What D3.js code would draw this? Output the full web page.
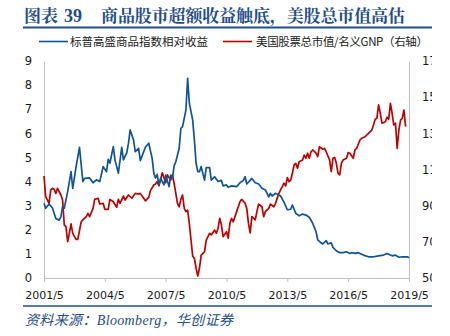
<!DOCTYPE html>
<html><head><meta charset="utf-8">
<script src="https://cdn.jsdelivr.net/npm/d3@7"></script>
<style>
html,body{margin:0;padding:0;background:#fff;}
svg{display:block;overflow:hidden;}
</style></head>
<body>
<script>
// ---- data ----
const titleLabel = "图表";
const titleNum = "39";
const titleText = "商品股市超额收益触底，美股总市值高估";
const seriesNames = ["标普高盛商品指数相对收益", "美国股票总市值/名义GNP（右轴）"];
const sourceText = "资料来源：Bloomberg，华创证券";
const xTickMonths = [0, 36, 72, 108, 144, 180, 216]; // months since 2001/5
const xTickLabels = ["2001/5", "2004/5", "2007/5", "2010/5", "2013/5", "2016/5", "2019/5"];
const leftTicks = [0, 1, 2, 3, 4, 5, 6, 7, 8, 9];
const rightTicks = [50, 70, 90, 110, 130, 150, 170];

// blue series: months since 2001/5 and values (left axis)
const blueMonths = [0,1,3,5,7,9,10,11,12,14,16,17,19,21,23,24,27,29,31,33,35,37,38,39,41,42,44,46,47,49,50,51,53,54,56,57,60,62,64,65,66,67,68,69,71,72,74,75,76,77,78,80,81,82,84,85,86,88,89,90,91,92,93,95,96,98,99,101,103,105,106,108,109,111,114,116,118,119,120,122,123,125,127,129,131,133,134,135,137,140,142,144,146,147,149,151,153,155,157,159,161,162,164,165,167,168,170,171,173,175,177,179,181,182,184,186,189,192,195,198,201,203,206,208,210,212,215,216];
const blueValues = [3.10,2.89,3.07,2.90,2.47,2.40,2.54,2.96,2.90,3.58,4.41,3.72,4.62,5.42,4.00,4.13,4.15,3.95,4.07,4.00,4.62,4.41,4.92,4.76,5.45,4.90,4.35,5.42,4.90,5.20,5.59,6.14,5.72,5.24,5.38,4.87,5.42,5.59,4.96,4.34,4.15,4.30,3.85,4.13,3.86,4.27,3.79,4.27,4.13,4.65,4.82,5.38,6.21,6.28,6.97,8.28,7.25,6.55,5.72,4.76,4.41,4.41,4.62,4.06,4.58,4.58,4.06,4.20,4.00,4.05,3.82,3.86,3.76,3.82,3.79,3.95,4.05,4.20,3.90,4.05,4.13,3.95,3.90,3.72,3.65,3.37,3.51,3.40,3.51,3.40,3.15,2.83,2.85,3.03,2.68,2.58,2.65,2.61,2.52,2.27,1.92,1.58,1.46,1.41,1.55,1.41,1.46,1.27,1.13,1.05,1.05,1.09,1.02,1.05,1.02,1.05,0.95,0.88,0.88,0.92,0.95,1.02,0.92,0.95,0.86,0.88,0.88,0.84];

// red series: months since 2001/5 and values (right axis)
const redMonths = [0,1,3,4,5,6,7,8,10,11,12,13,14,15,16,17,19,20,22,23,25,26,27,29,30,32,33,35,36,38,39,41,43,44,45,47,48,50,52,54,56,57,59,60,62,63,65,66,67,68,70,72,73,75,76,77,78,79,80,81,82,83,84,85,86,87,88,89,90,91,92,93,95,96,98,99,101,102,103,104,105,106,108,109,110,111,112,114,115,116,117,119,120,121,122,123,125,126,127,129,130,131,133,134,136,137,139,140,141,142,143,144,145,146,147,148,149,150,151,153,154,155,156,157,158,159,161,162,163,165,166,167,169,170,171,172,173,174,175,176,177,179,180,181,183,184,185,187,188,190,192,194,195,196,197,198,199,200,202,203,204,205,206,207,208,209,210,211,212,213,214];
const redValues = [106.4,95,91.3,98.7,99.6,99.1,96.8,99.6,95.9,93.1,79.3,78.4,70.1,74.7,79.9,74.7,71.4,71.4,81.1,82.1,83.9,85.8,83.9,88.5,93.5,94.1,90.9,91.3,88.0,88.0,93.5,92.2,89.1,93.5,91.3,95.3,93.1,95.9,94.1,96.8,96.4,96.8,94.1,92.7,94.6,98.3,101.4,102,103.3,100.9,108.2,102.7,107,104.2,107,102.4,96.8,91.3,89.4,93.5,95.9,88.5,86.7,87.5,80.2,71,62,60.9,55.4,51.1,55.4,62.7,64.5,71,74.7,73.8,76.5,74.7,77.5,83,79.3,72.9,75.6,72,80.2,83,81.1,86.7,89.4,92.2,93.5,91.3,88.5,80.2,75,83.9,82.1,86.7,90.9,89.4,83.9,86.7,88.5,90.9,89.4,91.3,96.8,98.7,100.5,102.4,100.9,105.5,103.3,104.2,107.9,112.5,113.4,110.7,114.3,115.3,118,116.2,119,116.2,119.8,120.8,119,117.1,122.6,121.2,121.7,119.8,115.3,108.8,116.2,116.7,113.4,107.9,107,113.4,115.3,116.2,119.3,119,116.2,120.8,121.7,126.3,127.3,128.1,130,131.8,134.6,137.8,138.3,145.7,141.1,135.6,136.4,138.9,137.8,146.6,141.1,134.6,135.6,121.7,131.8,137.3,138.3,142.9,133.7];

// ---- drawing ----
const W = 432, H = 336;
const plot = {left: 44, right: 409, top: 61, bottom: 278};
const blueColor = "#0F5496", redColor = "#C00000", headColor = "#1F4E8C";
const numFont = "'DejaVu Sans', sans-serif";
const cjkFont = "'Noto Sans CJK SC', sans-serif";

const svg = d3.select("body").append("svg").attr("width", W).attr("height", H);

const x = d3.scaleLinear().domain([0, 216]).range([plot.left, plot.right]);
const yL = d3.scaleLinear().domain([0, 9]).range([plot.bottom, plot.top]);
const yR = d3.scaleLinear().domain([50, 170]).range([plot.bottom, plot.top]);

// title
const t = svg.append("text").attr("y", 22)
  .attr("fill", headColor).attr("font-weight", "bold").attr("font-size", 17)
  .attr("font-family", "'Noto Serif CJK SC', 'Noto Sans CJK SC', serif");
t.append("tspan").attr("x", 24).text(titleLabel);
t.append("tspan").attr("x", 64).attr("font-family", "'Liberation Serif', serif").attr("font-size", 18).text(titleNum);
t.append("tspan").attr("x", 101).attr("textLength", 304).attr("lengthAdjust", "spacing").text(titleText);
svg.append("line").attr("x1", 23).attr("x2", W).attr("y1", 27.5).attr("y2", 27.5)
  .attr("stroke", headColor).attr("stroke-width", 2);

// legend
const lg = svg.append("g").attr("font-family", cjkFont).attr("font-size", 11.5).attr("fill", "#1a1a1a");
lg.append("line").attr("x1", 39).attr("x2", 68).attr("y1", 41.5).attr("y2", 41.5).attr("stroke", blueColor).attr("stroke-width", 1.6);
lg.append("text").attr("x", 70).attr("y", 45.5).attr("textLength", 138).attr("lengthAdjust", "spacing").text(seriesNames[0]);
lg.append("line").attr("x1", 223).attr("x2", 252).attr("y1", 41.5).attr("y2", 41.5).attr("stroke", redColor).attr("stroke-width", 1.6);
lg.append("text").attr("x", 256).attr("y", 45.5).attr("textLength", 172).attr("lengthAdjust", "spacing").text(seriesNames[1]);

// axes
const axisColor = "#BFBFBF";
const gx = svg.append("g").attr("transform", `translate(0,${plot.bottom})`)
  .call(d3.axisBottom(x).tickValues(xTickMonths).tickSize(4).tickPadding(9)
    .tickFormat((d, i) => xTickLabels[i]));
gx.select(".domain").attr("stroke", axisColor);
gx.selectAll(".tick line").attr("stroke", axisColor);
gx.selectAll("text").attr("font-family", numFont).attr("font-size", 11).attr("fill", "#1a1a1a");

const gl = svg.append("g").attr("transform", `translate(${plot.left},0)`)
  .call(d3.axisLeft(yL).tickValues(leftTicks).tickSize(0).tickPadding(12).tickFormat(d3.format("d")));
gl.select(".domain").attr("stroke", axisColor);
gl.selectAll("text").attr("font-family", numFont).attr("font-size", 11.5).attr("fill", "#1a1a1a");

const gr = svg.append("g").attr("transform", `translate(${plot.right},0)`)
  .call(d3.axisRight(yR).tickValues(rightTicks).tickSize(0).tickPadding(13).tickFormat(d3.format("d")));
gr.select(".domain").attr("stroke", axisColor);
gr.selectAll("text").attr("font-family", numFont).attr("font-size", 11.5).attr("fill", "#1a1a1a");

// lines
const blueData = blueMonths.map((m, i) => [m, blueValues[i]]);
const redData = redMonths.map((m, i) => [m, redValues[i]]);
svg.append("path").datum(redData)
  .attr("d", d3.line().x(d => x(d[0])).y(d => yR(d[1])))
  .attr("fill", "none").attr("stroke", redColor).attr("stroke-width", 1.7).attr("stroke-linejoin", "round");
svg.append("path").datum(blueData)
  .attr("d", d3.line().x(d => x(d[0])).y(d => yL(d[1])))
  .attr("fill", "none").attr("stroke", blueColor).attr("stroke-width", 1.7).attr("stroke-linejoin", "round");

// footer
svg.append("line").attr("x1", 23).attr("x2", W).attr("y1", 306).attr("y2", 306)
  .attr("stroke", headColor).attr("stroke-width", 1.5);
svg.append("text").attr("x", 25).attr("y", 325)
  .attr("fill", headColor).attr("font-style", "italic").attr("font-size", 14)
  .attr("font-family", "'Liberation Serif', 'Noto Sans CJK SC', serif")
  .attr("textLength", 208).attr("lengthAdjust", "spacing")
  .text(sourceText);
</script>
</body></html>
